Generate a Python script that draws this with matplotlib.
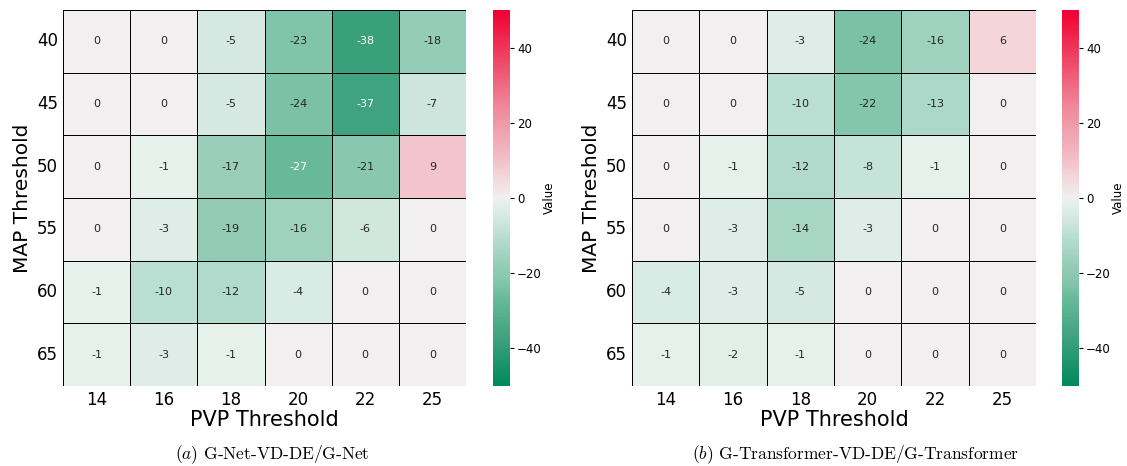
import numpy as np
import matplotlib
matplotlib.use("Agg")
import matplotlib.pyplot as plt
import seaborn as sns
from matplotlib.colors import LinearSegmentedColormap

plt.rcParams['mathtext.fontset'] = 'cm'

pvp = [14, 16, 18, 20, 22, 25]
map_thr = [40, 45, 50, 55, 60, 65]

gnet_vals = [
    [0, 0, -5, -23, -38, -18],
    [0, 0, -5, -24, -37, -7],
    [0, -1, -17, -27, -21, 9],
    [0, -3, -19, -16, -6, 0],
    [-1, -10, -12, -4, 0, 0],
    [-1, -3, -1, 0, 0, 0],
]
gtrans_vals = [
    [0, 0, -3, -24, -16, 6],
    [0, 0, -10, -22, -13, 0],
    [0, -1, -12, -8, -1, 0],
    [0, -3, -14, -3, 0, 0],
    [-4, -3, -5, 0, 0, 0],
    [-1, -2, -1, 0, 0, 0],
]
captions = [r'$(a)$ G-Net-VD-DE/G-Net', r'$(b)$ G-Transformer-VD-DE/G-Transformer']

# green -> light -> red, colours
cmap = LinearSegmentedColormap.from_list('gr', [
    (0.00, '#00895a'), (0.12, '#3ba07d'), (0.23, '#69b99b'), (0.27, '#80c4ab'),
    (0.32, '#96ccb8'), (0.40, '#b9dfd2'), (0.43, '#cce5dc'), (0.49, '#e6f1ec'),
    (0.50, '#f2f0f1'), (0.56, '#f3d5da'), (0.59, '#f2c5cc'), (0.75, '#ef8598'),
    (1.00, '#f00030')])

fig = plt.figure(figsize=(11.27, 4.66), dpi=100)
W, H = 1127, 466

def box(x0, x1, y0, y1):
    return [x0 / W, 1 - y1 / H, (x1 - x0) / W, (y1 - y0) / H]

panels = [
    (gnet_vals, box(63, 466, 10, 386), box(493, 510, 10, 386), 272),
    (gtrans_vals, box(632, 1036, 10, 386), box(1062, 1079, 10, 386), 855),
]

for i, (vals, axpos, cpos, cx) in enumerate(panels):
    ax = fig.add_axes(axpos)
    cax = fig.add_axes(cpos)
    sns.heatmap(np.array(vals), ax=ax, cbar_ax=cax, cmap=cmap, vmin=-50, vmax=50,
                annot=True, fmt='d', annot_kws={'fontsize': 8},
                linewidths=0.6, linecolor='black',
                xticklabels=pvp, yticklabels=map_thr)
    ax.set_xlabel('PVP Threshold', fontsize=15, labelpad=1)
    ax.set_ylabel('MAP Threshold', fontsize=14.5)
    ax.tick_params(axis='both', labelsize=12, length=0)
    ax.tick_params(axis='y', rotation=0)
    cax.tick_params(labelsize=8.5, length=3, pad=2)
    cax.set_ylabel('Value', fontsize=8.5, labelpad=1)
    fig.text(cx / W, 1 - 455 / H, captions[i], ha='center', va='center',
             family='cmr10', fontsize=12.5)

fig.savefig('out.png', dpi=100)
